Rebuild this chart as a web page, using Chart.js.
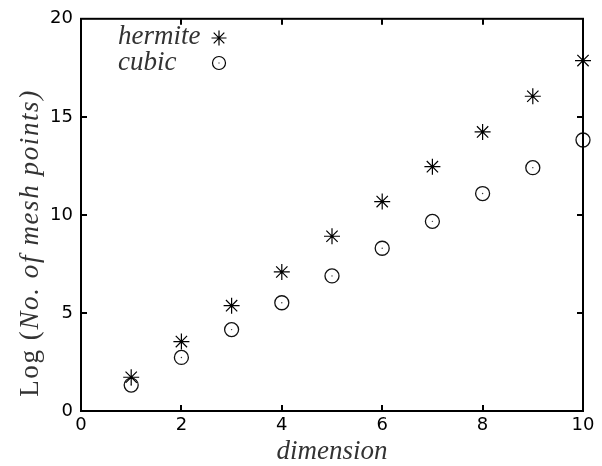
<!DOCTYPE html>
<html>
<head>
<meta charset="utf-8">
<script src="https://cdn.jsdelivr.net/npm/chart.js@4/dist/chart.umd.min.js"></script>
<style>
  html, body { margin: 0; padding: 0; background: #fff; }
  #wrap { width: 602px; height: 466px; }
</style>
</head>
<body>
<div id="wrap"><canvas id="chart"></canvas></div>
<script>
const dimensions = [1, 2, 3, 4, 5, 6, 7, 8, 9, 10];
const hermiteVals = [1.72, 3.54, 5.37, 7.09, 8.91, 10.68, 12.46, 14.23, 16.05, 17.87];
const cubicVals = [1.32, 2.73, 4.15, 5.52, 6.89, 8.30, 9.67, 11.09, 12.41, 13.82];
const xTicks = [0, 2, 4, 6, 8, 10];
const yTicks = [0, 5, 10, 15, 20];

const toPts = vals => dimensions.map((d, i) => ({ x: d, y: vals[i] }));

const TICK_FONT = { family: '"DejaVu Sans"', size: 18 };
const SERIF = '"Liberation Serif", "DejaVu Serif", serif';

// frame, inward ticks, axis titles and legend
const decorPlugin = {
  id: 'decor',
  afterDraw(chart) {
    const { ctx, chartArea: a, scales: { x, y } } = chart;
    ctx.save();
    ctx.strokeStyle = '#000';
    ctx.lineWidth = 2;
    ctx.strokeRect(a.left, a.top, a.right - a.left, a.bottom - a.top);

    ctx.beginPath();
    xTicks.slice(1, -1).forEach(v => {
      const px = Math.round(x.getPixelForValue(v));
      ctx.moveTo(px, a.bottom); ctx.lineTo(px, a.bottom - 6);
      ctx.moveTo(px, a.top); ctx.lineTo(px, a.top + 6);
    });
    yTicks.slice(1, -1).forEach(v => {
      const py = Math.round(y.getPixelForValue(v));
      ctx.moveTo(a.left, py); ctx.lineTo(a.left + 6, py);
      ctx.moveTo(a.right, py); ctx.lineTo(a.right - 6, py);
    });
    ctx.stroke();

    ctx.fillStyle = '#333';
    ctx.textBaseline = 'alphabetic';

    // x title
    ctx.font = 'italic 27px ' + SERIF;
    ctx.textAlign = 'center';
    ctx.fillText('dimension', (a.left + a.right) / 2, 459);

    // y title: "Log (" upright, rest italic
    ctx.translate(38, 243);
    ctx.rotate(-Math.PI / 2);
    ctx.letterSpacing = '1.6px';
    const p1 = 'Log (', p2 = 'No. of mesh points)';
    ctx.font = '27px ' + SERIF;
    const w1 = ctx.measureText(p1).width;
    ctx.font = 'italic 27px ' + SERIF;
    const w2 = ctx.measureText(p2).width;
    const start = -(w1 + w2) / 2;
    ctx.textAlign = 'left';
    ctx.font = '27px ' + SERIF;
    ctx.fillText(p1, start, 0);
    ctx.font = 'italic 27px ' + SERIF;
    ctx.fillText(p2, start + w1, 0);
    ctx.setTransform(1, 0, 0, 1, 0, 0);
    ctx.letterSpacing = '0px';

    // legend
    ctx.font = 'italic 27px ' + SERIF;
    ctx.textAlign = 'left';
    ctx.fillText('hermite', 118, 44);
    ctx.fillText('cubic', 118, 70);

    ctx.strokeStyle = '#000';
    ctx.lineWidth = 1.2;
    const sx = 219, sy = 38, r = 7.5;
    ctx.beginPath();
    ctx.moveTo(sx - r, sy); ctx.lineTo(sx + r, sy);
    ctx.moveTo(sx, sy - r); ctx.lineTo(sx, sy + r);
    const d = r * Math.SQRT1_2;
    ctx.moveTo(sx - d, sy - d); ctx.lineTo(sx + d, sy + d);
    ctx.moveTo(sx - d, sy + d); ctx.lineTo(sx + d, sy - d);
    ctx.stroke();
    ctx.fillStyle = '#000';
    ctx.fillRect(sx - 1, sy - 1, 2, 2);

    ctx.beginPath();
    ctx.arc(219, 63, 6.5, 0, Math.PI * 2);
    ctx.stroke();
    ctx.fillRect(218.5, 62.5, 1, 1);
    ctx.restore();
  }
};

new Chart(document.getElementById('chart'), {
  type: 'scatter',
  data: {
    datasets: [
      {
        label: 'hermite',
        data: toPts(hermiteVals),
        pointStyle: 'star',
        pointRadius: 8,
        borderColor: '#000',
        backgroundColor: '#000',
        pointBorderWidth: 1.2,
        clip: false
      },
      {
        label: 'hermite-centre',
        data: toPts(hermiteVals),
        pointStyle: 'circle',
        pointRadius: 1.3,
        borderWidth: 0,
        backgroundColor: '#000',
        clip: false
      },
      {
        label: 'cubic',
        data: toPts(cubicVals),
        pointStyle: 'circle',
        pointRadius: 7,
        borderColor: '#111',
        backgroundColor: 'rgba(0,0,0,0)',
        pointBorderWidth: 1.3,
        clip: false
      },
      {
        label: 'cubic-centre',
        data: toPts(cubicVals),
        pointStyle: 'circle',
        pointRadius: 0.7,
        borderWidth: 0,
        backgroundColor: '#333',
        clip: false
      }
    ]
  },
  options: {
    responsive: true,
    maintainAspectRatio: false,
    animation: false,
    layout: { padding: { top: 16, right: 19, left: 0, bottom: 0 } },
    plugins: {
      legend: { display: false },
      tooltip: { enabled: false }
    },
    scales: {
      x: {
        type: 'linear',
        min: 0,
        max: 10,
        afterBuildTicks: s => { s.ticks = xTicks.map(v => ({ value: v })); },
        afterFit: s => { s.height = 55; },
        grid: { display: false, drawTicks: false },
        border: { display: false },
        ticks: { color: '#000', font: TICK_FONT, padding: 4, maxRotation: 0 }
      },
      y: {
        type: 'linear',
        min: 0,
        max: 20,
        afterBuildTicks: s => { s.ticks = yTicks.map(v => ({ value: v })); },
        afterFit: s => { s.width = 81; },
        grid: { display: false, drawTicks: false },
        border: { display: false },
        ticks: { color: '#000', font: TICK_FONT, padding: 8 }
      }
    }
  },
  plugins: [decorPlugin]
});
</script>
</body>
</html>
